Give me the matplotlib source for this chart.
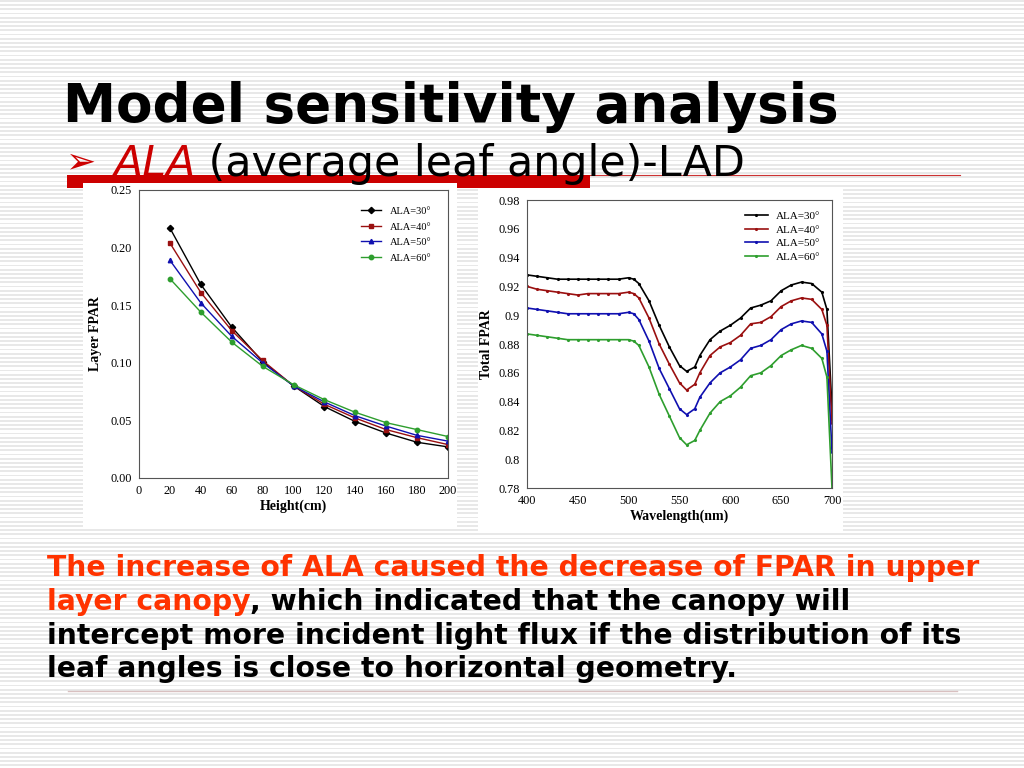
import numpy as np
import matplotlib.pyplot as plt
from matplotlib.ticker import FuncFormatter

W, H = 1024, 768

# left chart: layer FPAR vs height
height = [20, 40, 60, 80, 100, 120, 140, 160, 180, 200]
fpar30 = [0.217, 0.168, 0.131, 0.101, 0.080, 0.062, 0.049, 0.039, 0.031, 0.027]
fpar40 = [0.204, 0.161, 0.128, 0.102, 0.080, 0.064, 0.052, 0.042, 0.035, 0.029]
fpar50 = [0.189, 0.152, 0.123, 0.100, 0.080, 0.066, 0.054, 0.045, 0.037, 0.032]
fpar60 = [0.173, 0.144, 0.118, 0.097, 0.081, 0.068, 0.057, 0.048, 0.042, 0.036]

# right chart: total FPAR vs wavelength
wl = [400, 410, 420, 430, 440, 450, 460, 470, 480, 490, 500, 505, 510, 520, 530,
      540, 550, 557, 565, 570, 580, 590, 600, 610, 620, 630, 640, 650, 660, 670,
      680, 690, 695, 700]
tot30 = [0.928, 0.927, 0.926, 0.925, 0.925, 0.925, 0.925, 0.925, 0.925, 0.925, 0.926, 0.925,
         0.922, 0.910, 0.893, 0.878, 0.865, 0.861, 0.864, 0.872, 0.883, 0.889, 0.893, 0.898,
         0.905, 0.907, 0.910, 0.917, 0.921, 0.923, 0.922, 0.916, 0.904, 0.835]
tot40 = [0.920, 0.918, 0.917, 0.916, 0.915, 0.914, 0.915, 0.915, 0.915, 0.915, 0.916, 0.915,
         0.912, 0.898, 0.880, 0.866, 0.853, 0.848, 0.852, 0.860, 0.872, 0.878, 0.881, 0.886,
         0.894, 0.895, 0.899, 0.906, 0.910, 0.912, 0.911, 0.904, 0.893, 0.825]
tot50 = [0.905, 0.904, 0.903, 0.902, 0.901, 0.901, 0.901, 0.901, 0.901, 0.901, 0.902, 0.901,
         0.897, 0.882, 0.863, 0.849, 0.835, 0.831, 0.835, 0.843, 0.853, 0.860, 0.864, 0.869,
         0.877, 0.879, 0.883, 0.890, 0.894, 0.896, 0.895, 0.887, 0.875, 0.805]
tot60 = [0.887, 0.886, 0.885, 0.884, 0.883, 0.883, 0.883, 0.883, 0.883, 0.883, 0.883, 0.882,
         0.879, 0.864, 0.845, 0.830, 0.815, 0.810, 0.813, 0.820, 0.832, 0.840, 0.844, 0.850,
         0.858, 0.860, 0.865, 0.872, 0.876, 0.879, 0.877, 0.870, 0.857, 0.780]

labels = ['ALA=30°', 'ALA=40°', 'ALA=50°', 'ALA=60°']
colors = ['#000000', '#9a1010', '#1010b0', '#2e9e2e']
markers = ['D', 's', '^', 'o']

fig = plt.figure(figsize=(W / 100, H / 100), dpi=100)

# slide background with grey stripes
bg = fig.add_axes([0, 0, 1, 1])
bg.set_xlim(0, W)
bg.set_ylim(H, 0)
bg.axis('off')
for y in np.arange(0, H, 4.2):
    bg.axhspan(y, y + 1.8, color='#e8e8e8', lw=0)
bg.add_patch(plt.Rectangle((67, 175), 523, 13, color='#cc0000', lw=0))
bg.plot([590, 960], [175, 175], color='#cc3333', lw=0.8)
bg.plot([68, 957], [691, 691], color='#d8c0c0', lw=1)
bg.add_patch(plt.Rectangle((83, 183), 374, 345, color='white', lw=0))
bg.add_patch(plt.Rectangle((478, 188), 365, 344, color='white', lw=0))

renderer = fig.canvas.get_renderer()


def put(x, y, s, **kw):
    t = fig.text(x / W, 1 - y / H, s, va='baseline', **kw)
    return x + t.get_window_extent(renderer).width


put(63, 122, 'Model sensitivity analysis', fontsize=38.3, fontweight='bold',
    family='DejaVu Sans', color='black')
put(66, 172, '➢', fontsize=26, color='#cc0000', family='DejaVu Sans')
x = put(113, 176, 'ALA', fontsize=30.8, style='italic', color='#cc0000', family='DejaVu Sans')
put(x, 176, ' (average leaf angle)-LAD', fontsize=30.8, color='black', family='DejaVu Sans')

tk = dict(fontsize=20.3, fontweight='bold', family='DejaVu Sans')
red = '#ff3300'
put(47, 576, 'The increase of ALA caused the decrease of FPAR in upper', color=red, **tk)
x = put(47, 610, 'layer canopy', color=red, **tk)
put(x, 610, ', which indicated that the canopy will', color='black', **tk)
put(47, 644, 'intercept more incident light flux if the distribution of its', color='black', **tk)
put(47, 677, 'leaf angles is close to horizontal geometry.', color='black', **tk)

serif = 'Liberation Serif'

# left chart
ax1 = fig.add_axes([139 / W, 1 - 478 / H, (448 - 139) / W, (478 - 190) / H])
for vals, lab, c, m in zip([fpar30, fpar40, fpar50, fpar60], labels, colors, markers):
    ax1.plot(height, vals, color=c, marker=m, ms=3.2, lw=1, label=lab)
ax1.set_xlim(0, 200)
ax1.set_ylim(0, 0.25)
ax1.set_xticks(range(0, 201, 20))
ax1.set_yticks(np.arange(0, 0.251, 0.05))
ax1.yaxis.set_major_formatter(FuncFormatter(lambda v, p: '%.2f' % v))
ax1.set_xlabel('Height(cm)', family=serif, fontweight='bold', fontsize=10, labelpad=2)
ax1.set_ylabel('Layer FPAR', family=serif, fontweight='bold', fontsize=10, labelpad=6)
ax1.legend(loc='upper right', frameon=False, prop={'family': serif, 'size': 7.5},
           handlelength=2, labelspacing=0.6, borderaxespad=1.2)

# right chart
ax2 = fig.add_axes([527 / W, 1 - 488 / H, (832 - 527) / W, (488 - 200) / H])
for vals, lab, c in zip([tot30, tot40, tot50, tot60], labels, colors):
    ax2.plot(wl, vals, color=c, marker='.', ms=2.5, lw=1.2, label=lab)
ax2.set_xlim(400, 700)
ax2.set_ylim(0.78, 0.98)
ax2.set_xticks(range(400, 701, 50))
ax2.set_yticks(np.arange(0.78, 0.981, 0.02))
ax2.yaxis.set_major_formatter(FuncFormatter(lambda v, p: '%g' % round(v, 2)))
ax2.set_xlabel('Wavelength(nm)', family=serif, fontweight='bold', fontsize=10, labelpad=2)
ax2.set_ylabel('Total FPAR', family=serif, fontweight='bold', fontsize=10, labelpad=4)
ax2.legend(loc='upper right', frameon=False, prop={'family': serif, 'size': 8},
           handlelength=2, labelspacing=0.35, borderaxespad=0.6)

for ax in (ax1, ax2):
    ax.set_facecolor('white')
    for sp in ax.spines.values():
        sp.set_color('#555555')
        sp.set_linewidth(0.8)
    ax.tick_params(length=0, labelsize=8.8, pad=5)
    for t in ax.get_xticklabels() + ax.get_yticklabels():
        t.set_family(serif)

fig.savefig('out.png', dpi=100)
